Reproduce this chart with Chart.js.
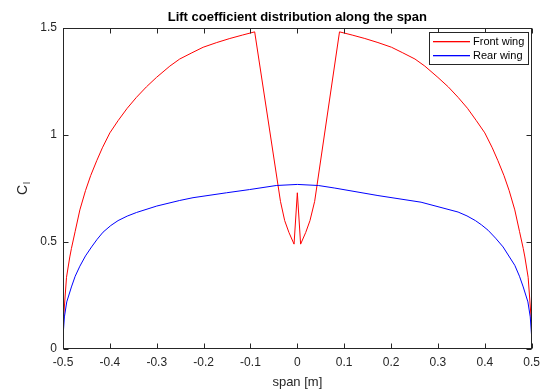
<!DOCTYPE html>
<html>
<head>
<meta charset="utf-8">
<script src="https://cdn.jsdelivr.net/npm/chart.js@4.4.1/dist/chart.umd.min.js"></script>
<style>
  html, body { margin: 0; padding: 0; background: #fff; }
  #wrap { width: 546px; height: 392px; }
</style>
</head>
<body>
<div id="wrap"><canvas id="c" width="546" height="392"></canvas></div>
<script>
// ---------- data ----------
const titleText = "Lift coefficient distribution along the span";
const xAxisLabel = "span [m]";
const yAxisMain = "C";
const yAxisSub = "l";
const seriesNames = ["Front wing", "Rear wing"];
const seriesColors = ["#ff0000", "#0000ff"];

const xTickValues = [-0.5, -0.4, -0.3, -0.2, -0.1, 0, 0.1, 0.2, 0.3, 0.4, 0.5];
const xTickLabels = ["-0.5", "-0.4", "-0.3", "-0.2", "-0.1", "0", "0.1", "0.2", "0.3", "0.4", "0.5"];
const yTickValues = [0, 0.5, 1, 1.5];
const yTickLabels = ["0", "0.5", "1", "1.5"];

const frontSpan = [
  -0.5, -0.4925, -0.4855, -0.482, -0.474, -0.464, -0.452, -0.441, -0.428,
  -0.416, -0.40, -0.3825, -0.363, -0.3433, -0.322, -0.3006, -0.272, -0.251, -0.225,
  -0.201, -0.172, -0.144, -0.117, -0.091, -0.036, -0.027, -0.018, -0.007, 0,
  0.007, 0.018, 0.027, 0.037, 0.090, 0.117, 0.144, 0.172, 0.201, 0.225,
  0.251, 0.272, 0.300, 0.322, 0.343, 0.363, 0.382, 0.400, 0.416, 0.428,
  0.441, 0.452, 0.464, 0.474, 0.482, 0.4855, 0.4925, 0.5
];
const frontCl = [
  0.11, 0.335, 0.43, 0.47, 0.55, 0.65, 0.74, 0.81, 0.88,
  0.94, 1.01, 1.067, 1.125, 1.176, 1.225, 1.269, 1.322, 1.355, 1.384,
  1.410, 1.432, 1.451, 1.467, 1.482, 0.69, 0.60, 0.545, 0.49, 0.73,
  0.49, 0.545, 0.60, 0.69, 1.482, 1.467, 1.451, 1.432, 1.410, 1.384,
  1.355, 1.322, 1.269, 1.225, 1.176, 1.125, 1.067, 1.01, 0.94, 0.88,
  0.81, 0.74, 0.65, 0.55, 0.47, 0.43, 0.335, 0.11
];

const rearSpan = [
  -0.5, -0.497, -0.492, -0.482, -0.474, -0.464, -0.452, -0.439, -0.427, -0.4145,
  -0.398, -0.3825, -0.363, -0.343, -0.300, -0.251, -0.2226, -0.151, -0.102, -0.045, 0,
  0.045, 0.080, 0.172, 0.264, 0.343, 0.362, 0.380, 0.393, 0.407, 0.423, 0.439,
  0.464, 0.474, 0.482, 0.492, 0.497, 0.5
];
const rearCl = [
  0.057, 0.15, 0.22, 0.29, 0.34, 0.387, 0.435, 0.477, 0.513, 0.546,
  0.577, 0.600, 0.621, 0.638, 0.668, 0.694, 0.707, 0.730, 0.745, 0.764, 0.769,
  0.764, 0.752, 0.717, 0.686, 0.640, 0.622, 0.600, 0.580, 0.555, 0.518, 0.477,
  0.391, 0.34, 0.29, 0.22, 0.15, 0.057
];

// ---------- chart ----------
const FONT = "'Liberation Sans', Arial, Helvetica, sans-serif";
const AX = "#262626";

function toPoints(xs, ys) { return xs.map((x, i) => ({ x: x, y: ys[i] })); }

const decor = {
  id: 'decor',
  afterDraw(chart) {
    const ctx = chart.ctx;
    const a = chart.chartArea;
    const xs = chart.scales.x, ys = chart.scales.y;
    const L = Math.round(a.left) + 0.5, R = Math.round(a.right) - 0.5;
    const T = Math.round(a.top) + 0.5, B = Math.round(a.bottom) - 0.5;
    ctx.save();
    ctx.strokeStyle = AX;
    ctx.lineWidth = 1;
    // box
    ctx.strokeRect(L, T, R - L, B - T);
    // inward ticks
    const tl = 5;
    ctx.beginPath();
    xTickValues.forEach(v => {
      const px = Math.round(xs.getPixelForValue(v)) + 0.5;
      ctx.moveTo(px, B); ctx.lineTo(px, B - tl);
      ctx.moveTo(px, T); ctx.lineTo(px, T + tl);
    });
    yTickValues.forEach(v => {
      const py = Math.round(ys.getPixelForValue(v)) + 0.5;
      ctx.moveTo(L, py); ctx.lineTo(L + tl, py);
      ctx.moveTo(R, py); ctx.lineTo(R - tl, py);
    });
    ctx.stroke();

    // title
    const cx = (a.left + a.right) / 2;
    ctx.fillStyle = "#000";
    ctx.font = "bold 13px " + FONT;
    ctx.textAlign = "center";
    ctx.textBaseline = "alphabetic";
    ctx.fillText(titleText, cx, 21);

    // x label
    ctx.fillStyle = AX;
    ctx.font = "13px " + FONT;
    ctx.fillText(xAxisLabel, cx, 386);

    // y label with subscript
    const cy = (a.top + a.bottom) / 2;
    ctx.save();
    ctx.translate(27, cy);
    ctx.rotate(-Math.PI / 2);
    ctx.font = "14px " + FONT;
    const wC = ctx.measureText(yAxisMain).width;
    ctx.font = "9px " + FONT;
    const wl = ctx.measureText(yAxisSub).width;
    const total = wC + wl + 1;
    ctx.textAlign = "left";
    ctx.font = "14px " + FONT;
    ctx.fillText(yAxisMain, -total / 2, 0);
    ctx.font = "9px " + FONT;
    ctx.fillText(yAxisSub, -total / 2 + wC + 1, 3);
    ctx.restore();

    // legend
    const lx = 429.5, ly = 32.5, lw = 99, lh = 32;
    ctx.fillStyle = "#fff";
    ctx.fillRect(lx, ly, lw, lh);
    ctx.strokeStyle = AX;
    ctx.lineWidth = 1;
    ctx.strokeRect(lx, ly, lw, lh);
    ctx.font = "11px " + FONT;
    ctx.textAlign = "left";
    ctx.textBaseline = "middle";
    const rows = [41, 55];
    seriesNames.forEach((name, i) => {
      ctx.fillStyle = seriesColors[i];
      ctx.fillRect(433, rows[i], 37, 1.3);
      ctx.fillStyle = "#000";
      ctx.fillText(name, 473, rows[i] + 0.5);
    });
    ctx.restore();
  }
};

new Chart(document.getElementById('c'), {
  type: 'scatter',
  data: {
    datasets: [
      { label: seriesNames[0], data: toPoints(frontSpan, frontCl), showLine: true,
        borderColor: seriesColors[0], backgroundColor: seriesColors[0], borderWidth: 1,
        pointRadius: 0, tension: 0, order: 1 },
      { label: seriesNames[1], data: toPoints(rearSpan, rearCl), showLine: true,
        borderColor: seriesColors[1], backgroundColor: seriesColors[1], borderWidth: 1,
        pointRadius: 0, tension: 0, order: 0 }
    ]
  },
  options: {
    responsive: false,
    animation: false,
    devicePixelRatio: 1,
    layout: { padding: { top: 28, right: 14, left: 0, bottom: 0 } },
    plugins: {
      legend: { display: false },
      title: { display: false },
      tooltip: { enabled: false }
    },
    scales: {
      x: {
        type: 'linear', min: -0.5, max: 0.5,
        afterBuildTicks(s) { s.ticks = xTickValues.map(v => ({ value: v })); },
        afterFit(s) { s.height = 43; },
        grid: { display: false, drawTicks: false },
        border: { display: false },
        ticks: {
          color: AX, font: { family: FONT, size: 12 }, padding: 6, maxRotation: 0, autoSkip: false,
          callback(v) { const i = xTickValues.findIndex(t => Math.abs(t - v) < 1e-9); return i >= 0 ? xTickLabels[i] : ''; }
        }
      },
      y: {
        type: 'linear', min: 0, max: 1.5,
        afterBuildTicks(s) { s.ticks = yTickValues.map(v => ({ value: v })); },
        afterFit(s) { s.width = 63; },
        grid: { display: false, drawTicks: false },
        border: { display: false },
        ticks: {
          color: AX, font: { family: FONT, size: 12 }, padding: 6, autoSkip: false,
          callback(v) { const i = yTickValues.findIndex(t => Math.abs(t - v) < 1e-9); return i >= 0 ? yTickLabels[i] : ''; }
        }
      }
    }
  },
  plugins: [decor]
});
</script>
</body>
</html>
